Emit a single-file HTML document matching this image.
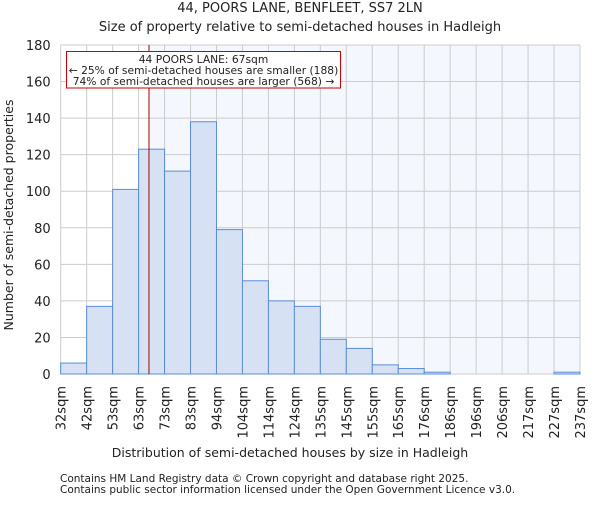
<!DOCTYPE html>
<html><head><meta charset="utf-8"><style>
body{margin:0;background:#fff;}
svg text{font-family:"DejaVu Sans","Liberation Sans",sans-serif;fill:#222;}
</style></head><body>
<svg width="600" height="500" id="c">
<text x="300" y="12" text-anchor="middle" font-size="13">44, POORS LANE, BENFLEET, SS7 2LN</text>
<text x="300" y="31" text-anchor="middle" font-size="13">Size of property relative to semi-detached houses in Hadleigh</text>
<text transform="translate(13,215) rotate(-90)" text-anchor="middle" font-size="12.5">Number of semi-detached properties</text>
<text x="290" y="457" text-anchor="middle" font-size="12.5">Distribution of semi-detached houses by size in Hadleigh</text>
<text x="60" y="482" font-size="10.5" fill="#444">Contains HM Land Registry data © Crown copyright and database right 2025.</text>
<text x="60" y="493" font-size="10.5" fill="#444">Contains public sector information licensed under the Open Government Licence v3.0.</text>
<g id="plot"></g>
</svg>
<script>
const labels=["32sqm","42sqm","53sqm","63sqm","73sqm","83sqm","94sqm","104sqm","114sqm","124sqm","135sqm","145sqm","155sqm","165sqm","176sqm","186sqm","196sqm","206sqm","217sqm","227sqm","237sqm"];
const counts=[6,37,101,123,111,138,79,51,40,37,19,14,5,3,1,0,0,0,0,1];
const yTicks=[0,20,40,60,80,100,120,140,160,180];
const markerPos=3.4;
const X0=60.7,X1=580,Y0=374,Y1=45,YMAX=180;
const bw=(X1-X0)/counts.length;
const xs=i=>X0+i*bw, ys=v=>Y0-(Y0-Y1)*v/YMAX;
const g=document.getElementById('plot'),NS='http://www.w3.org/2000/svg';
function mk(t,a,p){const e=document.createElementNS(NS,t);for(const k in a)e.setAttribute(k,a[k]);(p||g).appendChild(e);return e;}
const mx=xs(markerPos);
const sh=mk('rect',{x:mx,y:Y1,width:X1-mx,height:Y0-Y1,fill:'#f4f7fd'});


yTicks.forEach(v=>{
 const l=mk('line',{x1:X0,x2:X1,y1:ys(v),y2:ys(v),stroke:'#ccc'});
 
 
 const t=mk('text',{x:X0-10,y:ys(v)+5,'text-anchor':'end','font-size':13});
 t.textContent=v;
 
 
});
labels.forEach((s,i)=>{
 const l=mk('line',{x1:xs(i),x2:xs(i),y1:Y1,y2:Y0,stroke:'#ccc'});
 
 
 const t=mk('text',{transform:`translate(${xs(i)+5},386) rotate(-90)`,'text-anchor':'end','font-size':13});
 t.textContent=s;
 
 
});
counts.forEach((v,i)=>{
 if(v<=0)return;
 const r=mk('rect',{x:xs(i),y:ys(v),width:bw,height:Y0-ys(v),fill:'#d6e1f4',stroke:'#5b8ed6','stroke-width':1});
 
 
});
const ml=mk('line',{x1:mx,x2:mx,y1:Y1,y2:Y0,stroke:'#a00','stroke-width':1});


const box=mk('g',{});


mk('rect',{x:66.5,y:51.5,width:274,height:36.5,fill:'#fff',stroke:'#c00'},box);
[["44 POORS LANE: 67sqm",63],["← 25% of semi-detached houses are smaller (188)",74],["74% of semi-detached houses are larger (568) →",85]].forEach(([s,y])=>{
 const t=mk('text',{x:203.5,y:y,'text-anchor':'middle','font-size':10.7},box);t.textContent=s;
 
 
});
</script>
</body></html>
